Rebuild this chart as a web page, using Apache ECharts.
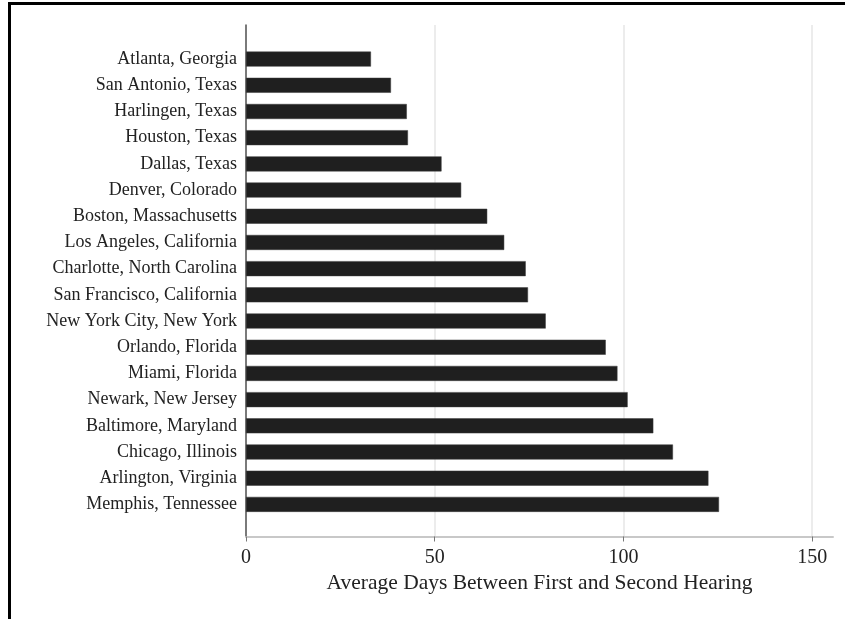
<!DOCTYPE html>
<html>
<head>
<meta charset="utf-8">
<script src="https://cdn.jsdelivr.net/npm/echarts@6/dist/echarts.min.js"></script>
<style>
  html, body { margin: 0; padding: 0; background: #fff; }
  #frame { position: absolute; left: 8px; top: 2px; width: 837px; height: 617px;
           border-top: 3px solid #000; border-left: 3px solid #000; box-sizing: border-box; }
  #chart { position: absolute; left: 0; top: 0; width: 845px; height: 619px; }
</style>
</head>
<body>
<div id="frame"></div>
<div id="chart"></div>
<script>
const cities = [
  "Atlanta, Georgia", "San Antonio, Texas", "Harlingen, Texas", "Houston, Texas",
  "Dallas, Texas", "Denver, Colorado", "Boston, Massachusetts", "Los Angeles, California",
  "Charlotte, North Carolina", "San Francisco, California", "New York City, New York",
  "Orlando, Florida", "Miami, Florida", "Newark, New Jersey", "Baltimore, Maryland",
  "Chicago, Illinois", "Arlington, Virginia", "Memphis, Tennessee"
];
const avgDays = [
  33.1, 38.4, 42.6, 42.9, 51.8, 57.0, 63.9, 68.4, 74.1, 74.7, 79.4,
  95.3, 98.4, 101.1, 107.9, 113.1, 122.5, 125.3
];
const xTicks = [0, 50, 100, 150];
const xTitle = "Average Days Between First and Second Hearing";

const chart = echarts.init(document.getElementById('chart'), null, { renderer: 'canvas' });
const serif = "'Liberation Serif', 'Times New Roman', serif";
const xMax = 155.5;

chart.setOption({
  backgroundColor: 'transparent',
  animation: false,
  grid: [
    { left: 246, right: 12, top: 46, bottom: 101.5 },
    { left: 246, right: 12, top: 25, bottom: 82.5 }
  ],
  xAxis: [
    { gridIndex: 0, type: 'value', min: 0, max: xMax, show: false },
    {
      gridIndex: 1, type: 'value', min: 0, max: xMax,
      axisLine: { show: true, lineStyle: { color: '#c8c8c8', width: 2 } },
      axisTick: { show: true, length: 5, customValues: xTicks, lineStyle: { color: '#777', width: 1 } },
      axisLabel: { customValues: xTicks, margin: 11, fontFamily: serif, fontSize: 20, color: '#222' },
      splitLine: { show: true, lineStyle: { color: '#e6e6e6', width: 1.5 } },
      name: xTitle, nameLocation: 'middle', nameGap: 34,
      nameTextStyle: { fontFamily: serif, fontSize: 21.5, color: '#222' }
    }
  ],
  yAxis: [
    {
      gridIndex: 0, type: 'category', data: cities, inverse: true,
      axisLine: { show: false }, axisTick: { show: false },
      axisLabel: { margin: 9, fontFamily: serif, fontSize: 18, color: '#222' }
    },
    {
      gridIndex: 1, type: 'value', min: 0, max: 1,
      axisLine: { show: true, onZero: false, lineStyle: { color: '#555', width: 1.5 } },
      axisTick: { show: false }, axisLabel: { show: false }, splitLine: { show: false }
    }
  ],
  series: [{
    type: 'bar', xAxisIndex: 0, yAxisIndex: 0,
    data: avgDays, barWidth: 15,
    itemStyle: { color: '#1f1f1f', borderColor: '#3a3a3a', borderWidth: 0.5 },
    z: 3
  }]
});
</script>
</body>
</html>
